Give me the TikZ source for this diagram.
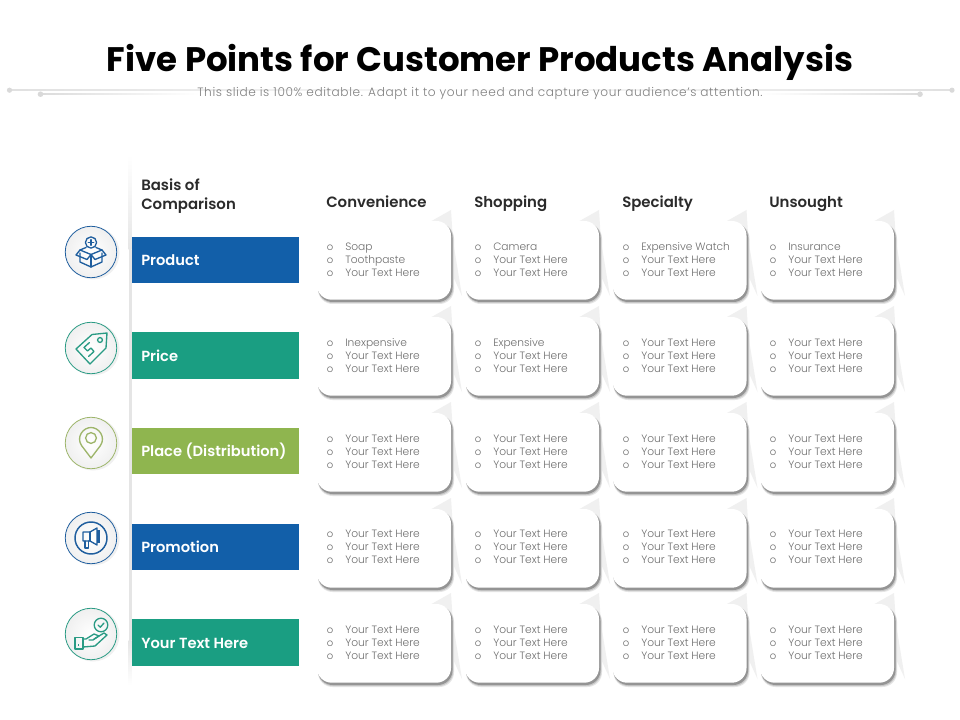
\documentclass[tikz,border=0pt]{standalone}
\usepackage{fontspec}
\setmainfont{Poppins}
\newfontfamily\semif{Poppins SemiBold}
\newfontfamily\lightf{Poppins Light}
\usetikzlibrary{calc}
\definecolor{barblue}{HTML}{125FA9}
\definecolor{bargreen}{HTML}{1A9E82}
\definecolor{barolive}{HTML}{8FB54F}
\definecolor{icoblue}{HTML}{1F5E9E}
\definecolor{icogreen}{HTML}{2A9B84}
\definecolor{icoolive}{HTML}{9DB56A}
\definecolor{bodygray}{HTML}{6E6E6E}
\definecolor{headdark}{HTML}{2B2B2B}
\tikzset{
  x=0.75pt,y=-0.75pt,
  barbox/.style={minimum width=125.25pt,minimum height=34.9pt,inner sep=0pt,anchor=west},
  barlabel/.style={anchor=base west,inner sep=0pt,text=white,font=\fontsize{11pt}{13pt}\semif},
  headlabel/.style={anchor=base west,inner sep=0pt,text=headdark,font=\fontsize{11.2pt}{14.2pt}\semif,align=left},
  itemlabel/.style={anchor=base west,inner sep=0pt,text=bodygray,font=\fontsize{8pt}{9pt}\lightf},
  bulletlabel/.style={anchor=base,inner sep=0pt,text=bodygray,font=\fontsize{7.5pt}{9pt}\lightf},
  ring/.style={circle,minimum size=38.6pt,inner sep=0pt,line width=0.6pt},
  ico/.style={line width=1pt,line join=round,line cap=round,fill=none},
}
\newcommand{\cardat}[2]{%
  \fill[black!6] (#1+134,#2-11) -- (#1+111,#2+2) -- (#1+120,#2+20) -- (#1+145,#2+75) -- (#1+136,#2+20) -- cycle;
  \fill[black!10,rounded corners=11pt] (#1+1,#2+3) rectangle (#1+137,#2+83);
  \fill[black!22,rounded corners=11pt] (#1+1,#2+2) rectangle (#1+136.3,#2+82);
  \fill[black!42,rounded corners=11pt] (#1+1,#2+2) rectangle (#1+135.5,#2+81);
  \fill[white,rounded corners=11pt] (#1,#2) rectangle (#1+134,#2+78.7);
}
\begin{document}
\begin{tikzpicture}
\useasboundingbox (0,0) rectangle (960,720);
\fill[white] (0,0) rectangle (960,720);
% rules under the title
\shade[left color=black!12,right color=white] (8,89.6) rectangle (560,90.6);
\shade[left color=white,right color=black!12] (400,89.6) rectangle (952,90.6);
\shade[left color=black!14,right color=white] (40,93.6) rectangle (200,94.8);
\shade[left color=white,right color=black!14] (760,93.6) rectangle (920,94.8);
\fill[black!15] (9.5,90.2) circle (2.6);
\fill[black!15] (952,90.2) circle (2.6);
\fill[black!15] (40.5,94.2) circle (2.8);
\fill[black!15] (920,94.2) circle (2.8);
\node[inner sep=0pt,anchor=base,text=black,font=\fontsize{25.5pt}{30pt}\selectfont\bfseries] (title) at (480,72) {Five Points for Customer Products Analysis};
\node[inner sep=0pt,anchor=base,text=black!50,font=\fontsize{9.1pt}{11pt}\lightf\addfontfeature{LetterSpace=5}] (sub) at (480,97) {This slide is 100\% editable. Adapt it to your need and capture your audience’s attention.};
% left vertical rule
\shade[top color=white,bottom color=black!10] (128.5,155) rectangle (131.5,250);
\fill[black!10] (128.5,250) rectangle (131.5,640);
\shade[top color=black!10,bottom color=white] (128.5,640) rectangle (131.5,685);
% column heads
\node[headlabel] (basisa) at (141,191) {Basis of};
\node[headlabel] (basisb) at (141,210) {Comparison};
\foreach \hx/\htxt/\hn in {326/Convenience/ha,474/Shopping/hb,622/Specialty/hc,769/Unsought/hd}
  \node[headlabel] (\hn) at (\hx,208) {\htxt};
% bars
\node[barbox,fill=barblue] (bar1) at (132,260) {};
\node[barbox,fill=bargreen] (bar2) at (132,355.5) {};
\node[barbox,fill=barolive] (bar3) at (132,451) {};
\node[barbox,fill=barblue] (bar4) at (132,547) {};
\node[barbox,fill=bargreen] (bar5) at (132,642.5) {};
\node[barlabel] (lab1) at (141,266) {Product};
\node[barlabel] (lab2) at (141,361.5) {Price};
\node[barlabel] (lab3) at (141,456.5) {Place (Distribution)};
\node[barlabel] (lab4) at (141,552.5) {Promotion};
\node[barlabel] (lab5) at (141,648.5) {Your Text Here};
% circles
\foreach \ccy/\ccc/\ccn in {252/icoblue/ca,348/icogreen/cb,443/icoolive/cc,538/icoblue/cd,634/icogreen/ce}{
  \fill[black!6] (93,\ccy+1) circle (26.5);
  \node[ring,draw=\ccc,inner color=white,outer color=black!6] (\ccn) at (91,\ccy) {};
}
% icon: box with plus
\begin{scope}[shift={(91,252)},ico,draw=icoblue]
  \draw (0,-9.5) circle (5.6);
  \draw (-2.8,-9.5) -- (2.8,-9.5) (0,-12.3) -- (0,-6.7);
  \draw (-11,1) -- (-11,10) -- (0,15) -- (11,10) -- (11,1);
  \draw (-11,-2) -- (0,2.5) -- (11,-2);
  \draw (0,2.5) -- (0,15);
  \draw (-11,-2) -- (-15,3) -- (-4,7.5) -- (0,2.5) -- (4,7.5) -- (15,3) -- (11,-2);
  \draw (-11,-2) -- (-5,-4.5) (11,-2) -- (5,-4.5);
\end{scope}
% icon: price tag
\begin{scope}[shift={(91,348)},ico,draw=icogreen]
  \draw (16,-15) -- (1,-13.5) -- (-15,1) -- (-1,16) -- (15,0) -- cycle;
  \draw (9,-8) circle (2.4);
  \draw (-1.5,-5.5) -- (-7,-0.5) -- (-3.5,3) -- (0,0) -- (3,3.5) -- (-2.5,8.5);
\end{scope}
% icon: pin
\begin{scope}[shift={(91,443)},ico,draw=icoolive]
  \draw (0,15) -- (-9.5,2.5) .. controls (-15,-6) and (-8,-15.5) .. (0,-15.5) .. controls (8,-15.5) and (15,-6) .. (9.5,2.5) -- cycle;
  \draw (0,-5) circle (5.4);
\end{scope}
% icon: megaphone
\begin{scope}[shift={(91,538)},ico,draw=icoblue]
  \draw[line width=1.1pt] (0,0) circle (16);
  \draw (-8,-6) -- (-1,-6) -- (6,-10) -- (6,7) -- (-1,3) -- (-8,3) -- cycle;
  \draw (-1,-6) -- (-1,3);
  \draw (-6,3) -- (-6,10) -- (-2.5,10) -- (-2.5,3);
  \fill[icoblue] (6,-8) rectangle (9,5);
\end{scope}
% icon: hand with badge
\begin{scope}[shift={(91,634)},ico,draw=icogreen]
  \draw (10,-9) circle (6.8);
  \draw (7,-9) -- (9.3,-6.8) -- (13,-11);
  \draw (-16,3.5) rectangle (-8,15);
  \draw (-8,5) -- (-5,5) -- (3,0) -- (8,2) -- (2,6) -- (-2,6);
  \draw (3,5) -- (13,-1) -- (16,1) -- (4,12) -- (-8,13);
  \fill[icogreen] (-13,10) rectangle (-12,12);
\end{scope}
% cards
\foreach \cardx in {317,465,612.5,760}
  \foreach \cardy in {221,317,413,509,604}
    {\cardat{\cardx}{\cardy}}
% bullets
\foreach \bux/\bupre in {330/a,478/b,626/c,773/d}
  \foreach \buy/\burow in {250.5/1,346/2,442/3,537/4,633/5}{
    \node[bulletlabel] (bu\bupre\burow x) at (\bux,\buy) {o};
    \node[bulletlabel] (bu\bupre\burow y) at (\bux,\buy+13) {o};
    \node[bulletlabel] (bu\bupre\burow z) at (\bux,\buy+26) {o};
  }
% items
\foreach \ix/\iy/\tta/\ttb/\ttc/\ipre in {
  345/250.5/Soap/Toothpaste/Your Text Here/a1,
  493/250.5/Camera/Your Text Here/Your Text Here/b1,
  641/250.5/Expensive Watch/Your Text Here/Your Text Here/c1,
  788/250.5/Insurance/Your Text Here/Your Text Here/d1,
  345/346/Inexpensive/Your Text Here/Your Text Here/a2,
  493/346/Expensive/Your Text Here/Your Text Here/b2,
  641/346/Your Text Here/Your Text Here/Your Text Here/c2,
  788/346/Your Text Here/Your Text Here/Your Text Here/d2,
  345/442/Your Text Here/Your Text Here/Your Text Here/a3,
  493/442/Your Text Here/Your Text Here/Your Text Here/b3,
  641/442/Your Text Here/Your Text Here/Your Text Here/c3,
  788/442/Your Text Here/Your Text Here/Your Text Here/d3,
  345/537/Your Text Here/Your Text Here/Your Text Here/a4,
  493/537/Your Text Here/Your Text Here/Your Text Here/b4,
  641/537/Your Text Here/Your Text Here/Your Text Here/c4,
  788/537/Your Text Here/Your Text Here/Your Text Here/d4,
  345/633/Your Text Here/Your Text Here/Your Text Here/a5,
  493/633/Your Text Here/Your Text Here/Your Text Here/b5,
  641/633/Your Text Here/Your Text Here/Your Text Here/c5,
  788/633/Your Text Here/Your Text Here/Your Text Here/d5}{
  \node[itemlabel] (it\ipre x) at (\ix,\iy) {\tta};
  \node[itemlabel] (it\ipre y) at (\ix,\iy+13) {\ttb};
  \node[itemlabel] (it\ipre z) at (\ix,\iy+26) {\ttc};
}
\end{tikzpicture}
\end{document}
